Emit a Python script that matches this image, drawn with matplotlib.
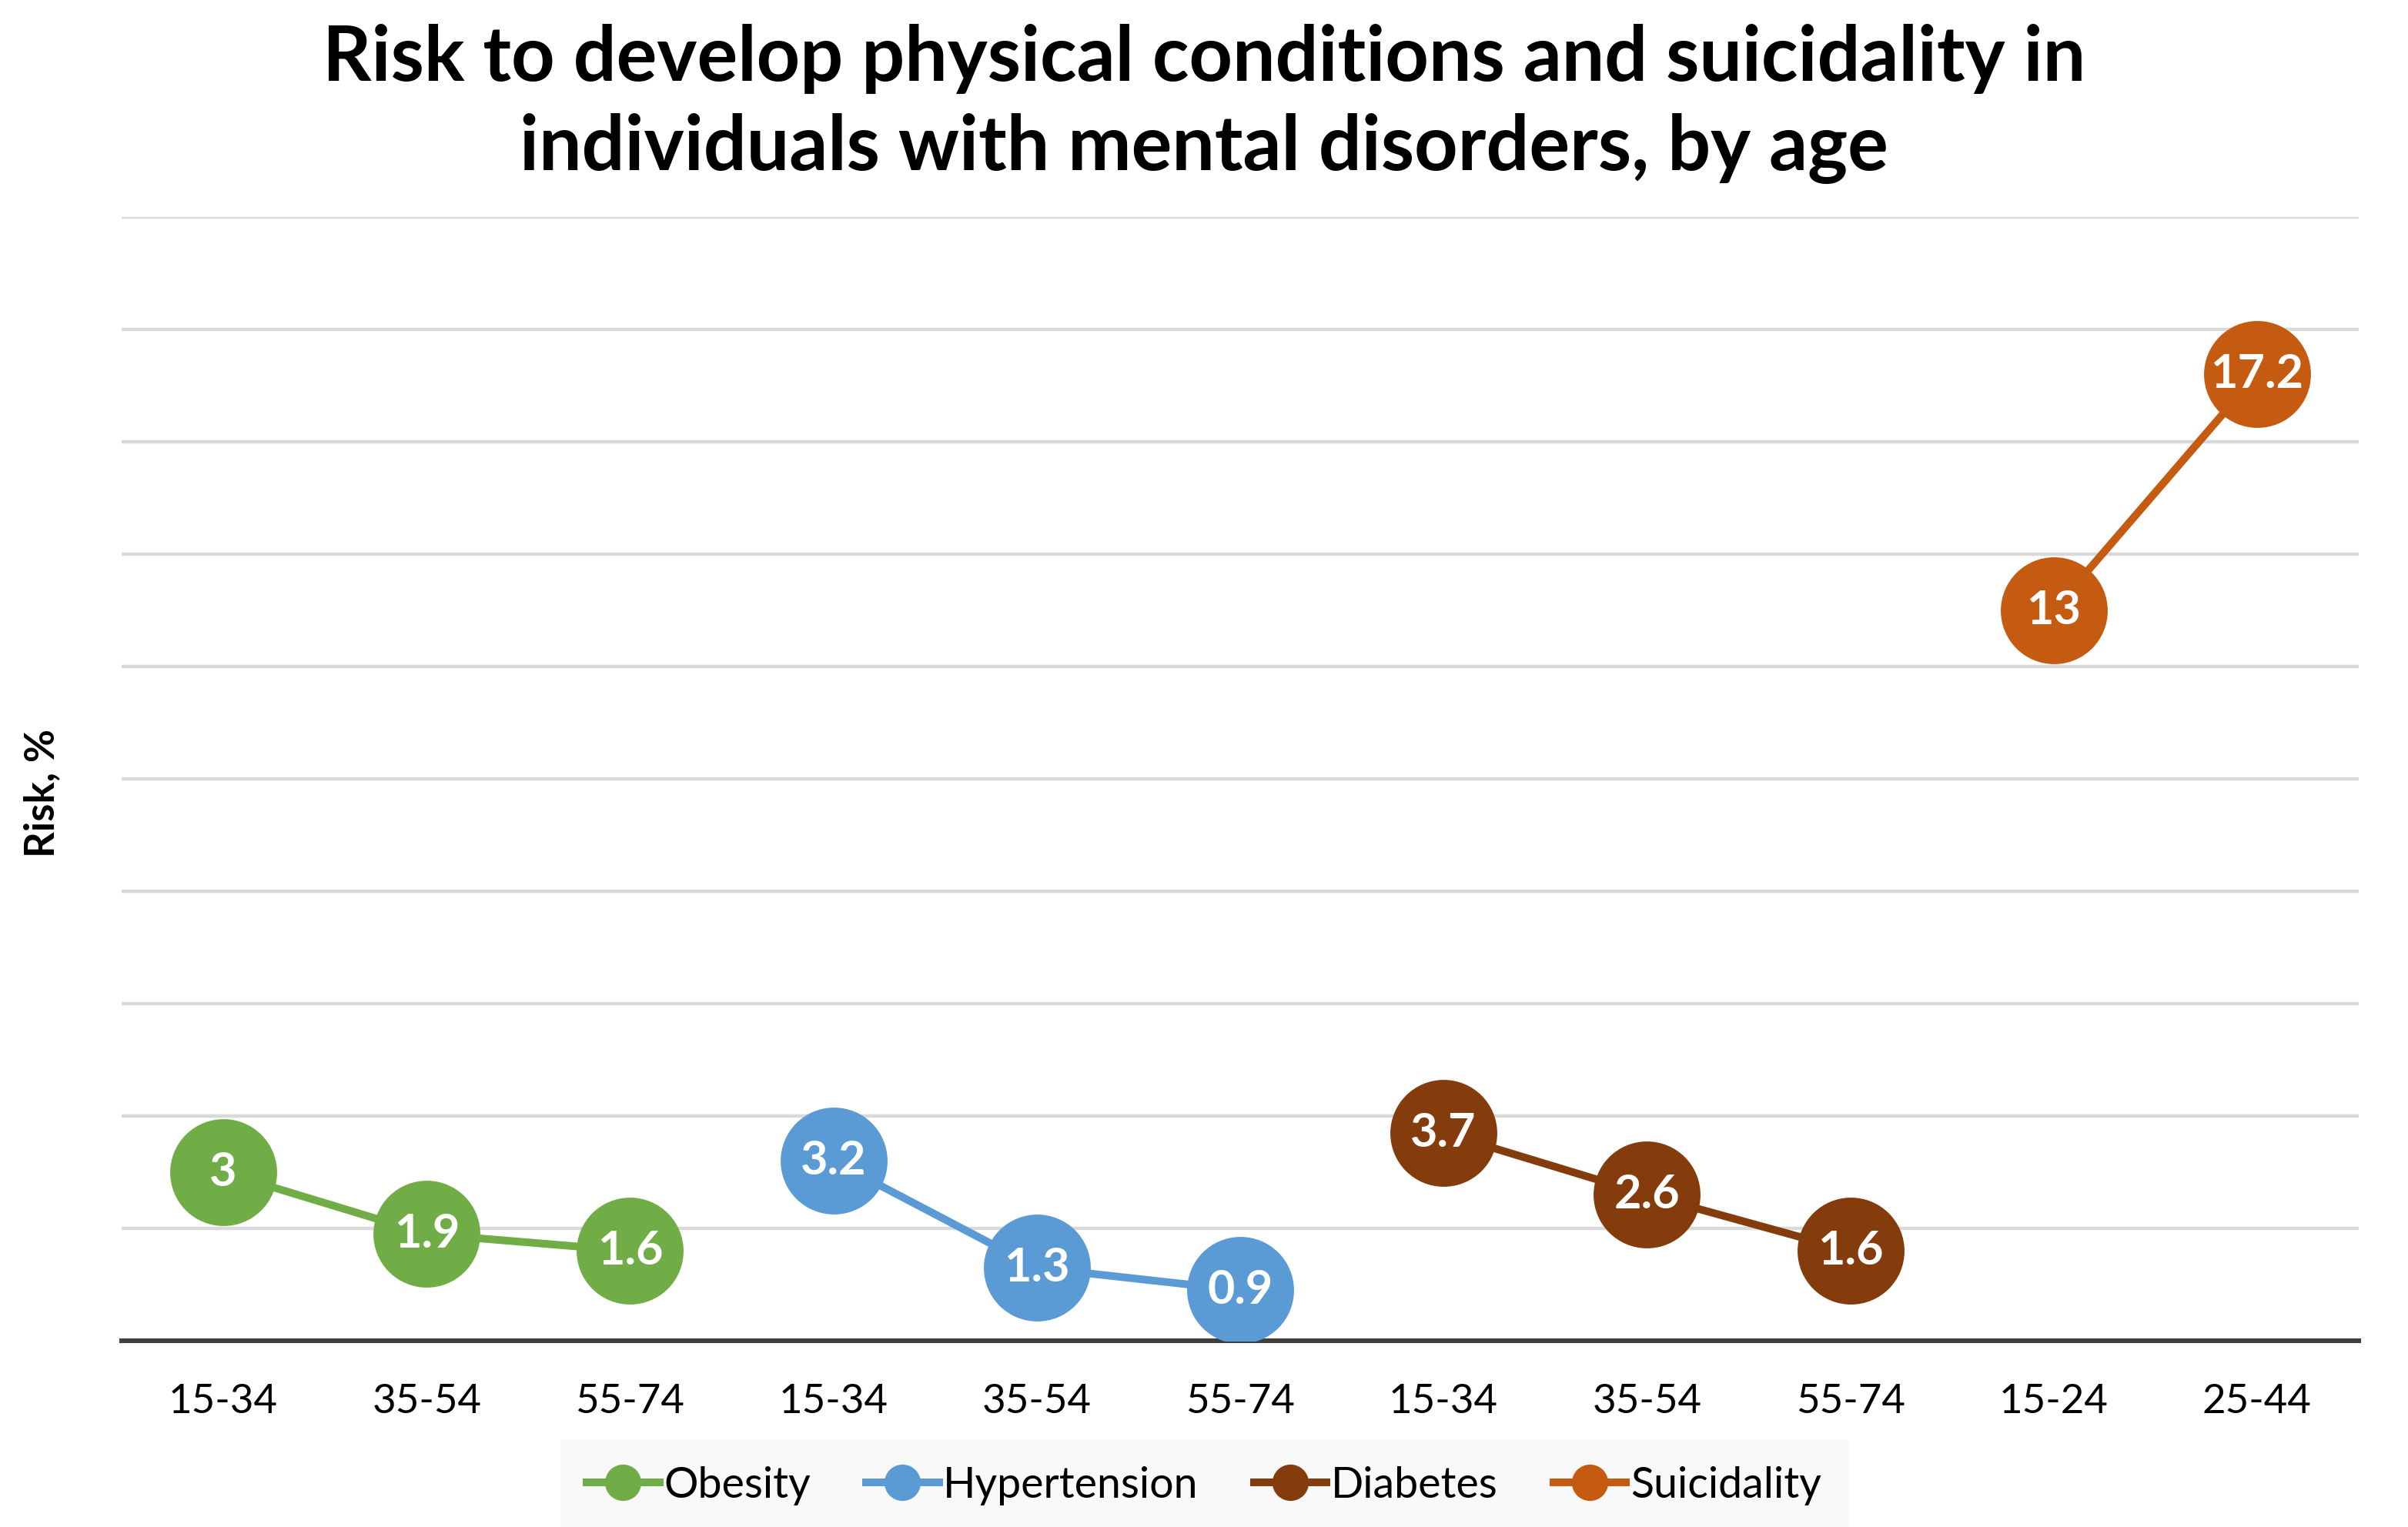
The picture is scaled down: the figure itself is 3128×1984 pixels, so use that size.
import matplotlib
matplotlib.use("Agg")
import matplotlib.pyplot as plt
from matplotlib.lines import Line2D

plt.rcParams['font.family'] = ['Lato', 'DejaVu Sans']

age_labels = ['15-34', '35-54', '55-74', '15-34', '35-54', '55-74',
              '15-34', '35-54', '55-74', '15-24', '25-44']

series_names = ['Obesity', 'Hypertension', 'Diabetes', 'Suicidality']
series_pos = [[0, 1, 2], [3, 4, 5], [6, 7, 8], [9, 10]]
series_vals = [[3, 1.9, 1.6], [3.2, 1.3, 0.9], [3.7, 2.6, 1.6], [13, 17.2]]
series_colors = ['#70AD47', '#5B9BD5', '#843C0C', '#C55A11']
label_texts = [['3', '1.9', '1.6'], ['3.2', '1.3', '0.9'], ['3.7', '2.6', '1.6'], ['13', '17.2']]

fig = plt.figure(figsize=(15.64, 9.92), dpi=200)
ax = fig.add_axes([158 / 3128, 242 / 1984, 2906 / 3128, 1460 / 1984])

for y in range(2, 21, 2):
    ax.axhline(y, color='#D9D9D9', linewidth=1.6, zorder=0)

for name, xs, vals, col, labs in zip(series_names, series_pos, series_vals, series_colors, label_texts):
    ax.plot(xs, vals, color=col, linewidth=3.6, marker='o', markersize=50,
            markeredgewidth=0, zorder=3, solid_capstyle='butt')
    for x, v, t in zip(xs, vals, labs):
        ax.text(x, v, t, ha='center', va='center', color='white',
                fontsize=22, fontweight='bold', zorder=4)

ax.set_xlim(-0.5, len(age_labels) - 0.5)
ax.set_ylim(0, 20)
ax.set_xticks(range(len(age_labels)))
ax.set_xticklabels(age_labels, fontsize=19)
ax.tick_params(axis='x', length=0, pad=20)
ax.set_yticks([])
for s in ['top', 'right', 'left']:
    ax.spines[s].set_visible(False)
ax.spines['bottom'].set_color('#404040')
ax.spines['bottom'].set_linewidth(2.2)

fig.text(55 / 3128, 1 - 1030 / 1984, 'Risk, %', rotation=90, ha='center', va='center',
         fontsize=19, fontweight='bold')

fig.text(0.5, 1 - 135 / 1984,
         'Risk to develop physical conditions and suicidality in\nindividuals with mental disorders, by age',
         ha='center', va='center', fontsize=35.5, fontweight='bold', linespacing=1.35)

handles = [Line2D([0], [0], color=c, linewidth=3.6, marker='o', markersize=17, markeredgewidth=0)
           for c in series_colors]
leg = fig.legend(handles, series_names, loc='center', bbox_to_anchor=(0.5, 1 - 1930 / 1984),
                 ncol=4, fontsize=20, frameon=True, fancybox=False, handlelength=1.7,
                 handletextpad=0.1, columnspacing=1.3, borderpad=0.6)
leg.get_frame().set_facecolor('#F8F8F8')
leg.get_frame().set_edgecolor('#F8F8F8')

fig.savefig('out.png', dpi=200)
